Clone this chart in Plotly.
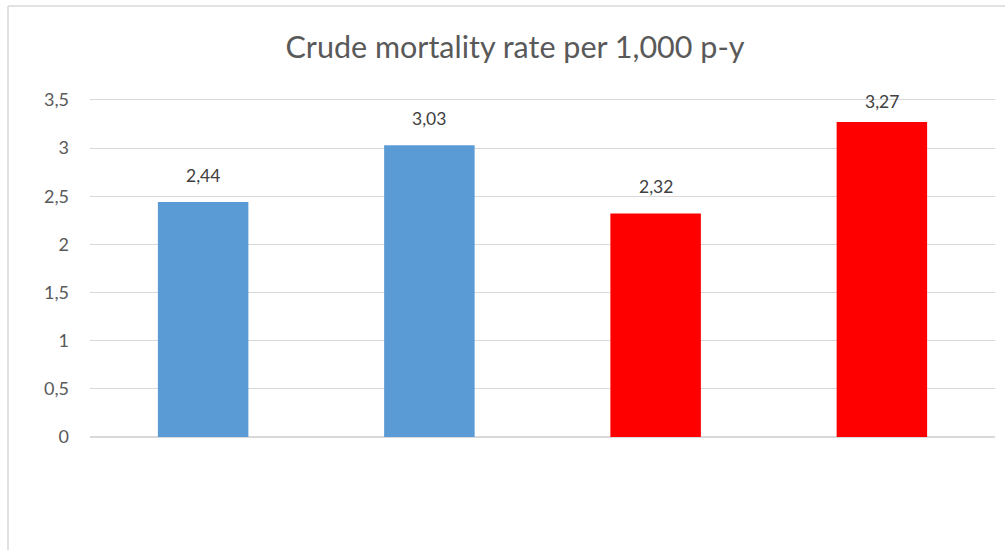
import plotly.graph_objects as go

categories = ["A", "B", "C", "D"]
values = [2.44, 3.03, 2.32, 3.27]
bar_colors = ["#5B9BD5", "#5B9BD5", "#FF0000", "#FF0000"]
title_text = "Crude mortality rate per 1,000 p-y"
tick_vals = [0, 0.5, 1, 1.5, 2, 2.5, 3, 3.5]

FONT = "Lato, Liberation Sans, sans-serif"

ml, mr, mt, mb = 90, 10, 98, 113
W, H = 1005, 550
pw, ph = W - ml - mr, H - mt - mb
Y_MAX = 3.52
def px(x): return (x - ml) / pw
def py(y): return (H - mb - y) / ph

fig = go.Figure()
fig.add_trace(go.Bar(
    x=categories, y=values, marker=dict(color=bar_colors, line=dict(width=0)),
    width=0.4, hoverinfo="skip",
))

# labels sit above the bars, but (like Excel) are kept from rising above the plot's top edge
unit_px = ph / Y_MAX
for c, v in zip(categories, values):
    top_px = (H - mb) - v * unit_px
    shift = min(27, top_px - (mt + 3))
    fig.add_annotation(x=c, y=v, text=f"{v:.2f}".replace(".", ","), showarrow=False,
                       yanchor="middle", yshift=shift,
                       font=dict(family=FONT, size=17.5, color="#404040"))

fig.add_shape(type="line", xref="paper", yref="paper", x0=px(8), x1=px(8), y0=py(550), y1=py(6),
              line=dict(color="#D9D9D9", width=1.5))
fig.add_shape(type="line", xref="paper", yref="paper", x0=px(8), x1=px(1005), y0=py(6), y1=py(6),
              line=dict(color="#D9D9D9", width=1.5))

fig.update_layout(
    width=W, height=H, autosize=False,
    separators=",.",
    margin=dict(l=ml, r=mr, t=mt, b=mb, pad=0),
    paper_bgcolor="white", plot_bgcolor="white",
    showlegend=False,
    title=dict(text=title_text, x=515 / W, xanchor="center", xref="container",
               y=1 - 47 / H, yanchor="middle", yref="container",
               font=dict(family=FONT, size=30.5, color="#595959")),
    bargap=0.6,
    xaxis=dict(showticklabels=False, showgrid=False, zeroline=False, showline=False, ticks=""),
    yaxis=dict(range=[0, Y_MAX], tickvals=tick_vals, showgrid=True, gridcolor="#D9D9D9", gridwidth=1,
               zeroline=True, zerolinecolor="#D9D9D9", zerolinewidth=1.5, showline=False,
               ticks="", ticklabelstandoff=20,
               tickfont=dict(family=FONT, size=18, color="#595959")),
)

fig.write_html("out.html", config={"displayModeBar": False, "staticPlot": True},
               post_script="document.body.style.margin='0';document.body.style.overflow='hidden';")
